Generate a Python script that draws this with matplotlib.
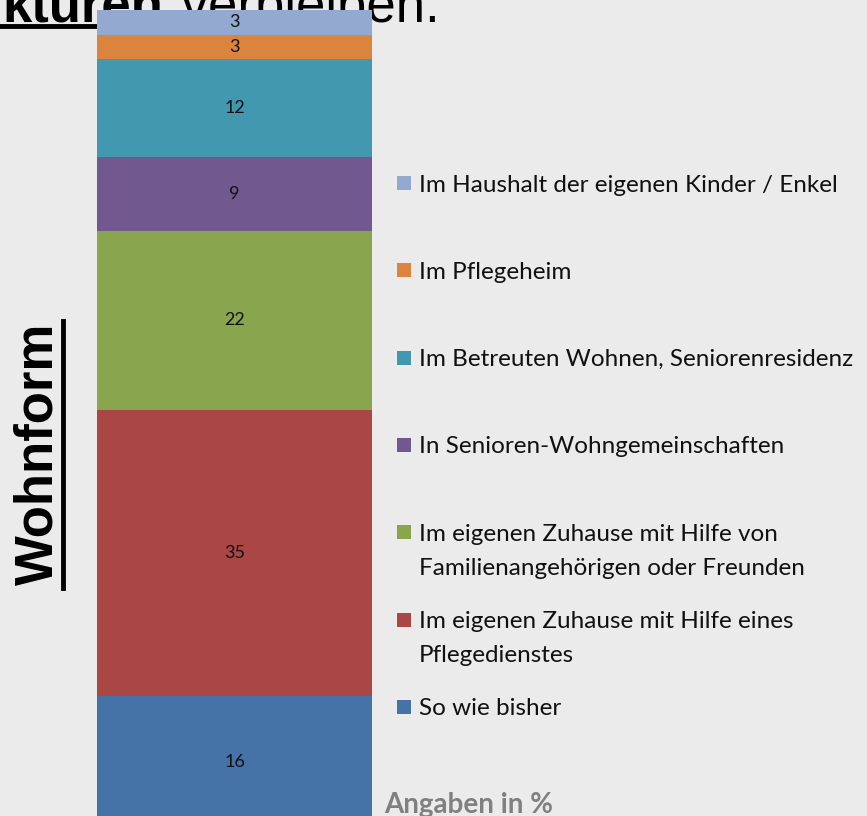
import matplotlib
matplotlib.use("Agg")
import matplotlib.pyplot as plt
from matplotlib.patches import Rectangle
from matplotlib.lines import Line2D

# Kategorien von unten nach oben
kategorien = ["So wie bisher",
              "Im eigenen Zuhause mit Hilfe eines\nPflegedienstes",
              "Im eigenen Zuhause mit Hilfe von\nFamilienangehörigen oder Freunden",
              "In Senioren-Wohngemeinschaften",
              "Im Betreuten Wohnen, Seniorenresidenz",
              "Im Pflegeheim",
              "Im Haushalt der eigenen Kinder / Enkel"]
werte = [16, 35, 22, 9, 12, 3, 3]
farben = ["#4572A7", "#AA4643", "#89A54E", "#71588F", "#4198AF", "#DB843D", "#93A9CF"]

W, H = 867, 816
bg = "#EBEBEB"

fig = plt.figure(figsize=(W / 100, H / 100), dpi=100)
fig.patch.set_facecolor(bg)

def px(x, y):
    # pixel (von oben links) -> figure coords
    return x / W, 1 - y / H

# Titel (teilweise abgeschnitten, hinter dem Balken)
fig.text(*px(2, 21), "kturen", fontsize=38, fontweight="bold", family="Liberation Sans",
         ha="left", va="baseline", zorder=-1)
fig.text(*px(440, 21), " verbleiben.", fontsize=38, family="Liberation Sans",
         ha="right", va="baseline", zorder=-1)
fig.add_artist(Line2D([0, 150 / W], [1 - 26 / H] * 2, color="black", lw=3.5, zorder=-1))

# Gestapelter Balken
ax = fig.add_axes([97 / W, (H - 827) / H, 275 / W, 817 / H])
ax.set_xlim(0, 1)
ax.set_ylim(0, 100)
ax.axis("off")
ax.patch.set_alpha(0)

unten = 0
for wert, farbe in zip(werte, farben):
    ax.bar(0.5, wert, bottom=unten, width=1.0, color=farbe, linewidth=0)
    ax.text(0.5, unten + wert / 2, str(wert), ha="center", va="center",
            fontsize=13, family="Lato", color="#111111")
    unten += wert

# Y-Beschriftung
fig.text(*px(38, 454), "Wohnform", rotation=90, fontsize=38, fontweight="bold",
         family="Liberation Sans", ha="center", va="center")
fig.add_artist(Line2D([63 / W] * 2, [1 - 321 / H, 1 - 588 / H], color="black", lw=3.5))

# Legende (oben nach unten)
for i, (kat, farbe) in enumerate(zip(kategorien[::-1], farben[::-1])):
    yc = 183 + 87.3 * i
    x0, y0 = px(397, yc + 7)
    fig.add_artist(Rectangle((x0, y0), 14 / W, 14 / H, transform=fig.transFigure,
                             facecolor=farbe, edgecolor="none"))
    for j, zeile in enumerate(kat.split("\n")):
        fig.text(*px(419, yc + 8.5 + 34 * j), zeile, fontsize=17.5, family="Lato",
                 ha="left", va="baseline", color="#111111")

fig.text(*px(384, 813), "Angaben in %", fontsize=20, fontweight="bold", family="Lato",
         color="#808080", ha="left", va="baseline")

fig.savefig("out.png", dpi=100, facecolor=bg)
